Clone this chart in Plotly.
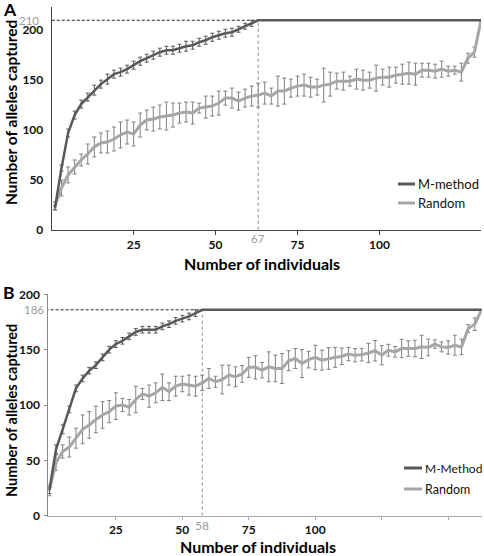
import plotly.graph_objects as go

W, H = 484, 556

# ---------------- Panel A data ----------------
individuals_A = list(range(1, 132, 2))
mmethod_A = [22, 62, 97, 115, 126, 133, 140, 146, 151, 156, 158, 161, 165, 169, 172, 175,
             178, 180, 180, 182, 184, 185, 188, 190, 193, 195, 197, 198, 201, 204, 207, 210,
             210, 210, 210, 210, 210, 210, 210, 210, 210, 210, 210, 210, 210, 210, 210, 210,
             210, 210, 210, 210, 210, 210, 210, 210, 210, 210, 210, 210, 210, 210, 210, 210,
             210, 210]
mmethod_A_err = [2, 3, 4, 4, 4, 4, 5, 4, 5, 4, 4, 4, 4, 4, 4, 4, 4, 4, 4, 4, 5, 4, 4, 4,
                 4, 4, 4, 4, 3, 3, 3, 0, 0, 0, 0, 0, 0, 0, 0, 0, 0, 0, 0, 0, 0, 0, 0, 0,
                 0, 0, 0, 0, 0, 0, 0, 0, 0, 0, 0, 0, 0, 0, 0, 0, 0, 0]
random_A = [24, 42, 55, 63, 70, 76, 83, 87, 88, 91,
            95, 98, 96, 105, 110, 111, 113, 114, 115, 117,
            118, 117, 122, 123, 124, 127, 132, 132, 129, 132,
            134, 135, 137, 134, 139, 139, 142, 144, 145, 143,
            143, 145, 146, 149, 149, 149, 151, 150, 150, 152,
            153, 153, 155, 156, 157, 156, 160, 160, 159, 161,
            159, 160, 158, 172, 178, 210]
random_A_err = [4, 8, 8, 7, 6, 10, 10, 10, 11, 12, 13, 12, 12, 12, 10, 12, 12, 14, 12, 10,
                10, 11, 5, 11, 10, 12, 7,
                10, 9, 9, 10, 12, 11, 8, 15, 13, 9, 10, 11, 10, 8, 17, 12, 8, 9, 5, 10,
                10, 8, 13, 8, 10, 8, 10, 11, 11, 7, 7, 7, 8, 5, 4, 9, 5, 5, 0]
reach_label_A = "67"

# ---------------- Panel B data ----------------
individuals_B = [i * 2.5 for i in range(66)]
mmethod_B = [23, 60, 78, 96, 115, 124, 131, 136, 143, 150, 155, 158, 162, 166, 168, 168,
             168, 171, 173, 176, 178, 180, 183, 186, 186, 186, 186, 186, 186, 186, 186, 186,
             186, 186, 186, 186, 186, 186, 186, 186, 186, 186, 186, 186, 186, 186, 186, 186,
             186, 186, 186, 186, 186, 186, 186, 186, 186, 186, 186, 186, 186, 186, 186, 186,
             186, 186]
mmethod_B_err = [3, 4, 4, 3, 3, 3, 3, 3, 3, 3, 3, 3, 3, 3, 3, 3, 3, 3, 3, 3, 3, 3, 3, 0,
                 0, 0, 0, 0, 0, 0, 0, 0, 0, 0, 0, 0, 0, 0, 0, 0, 0, 0, 0, 0, 0, 0, 0, 0,
                 0, 0, 0, 0, 0, 0, 0, 0, 0, 0, 0, 0, 0, 0, 0, 0, 0, 0]
random_B = [23, 48, 58, 62, 70, 78, 82, 87, 91, 94,
            99, 100, 98, 105, 110, 108, 111, 116, 112, 117,
            119, 118, 117, 120, 124, 121, 123, 127, 125.5, 128,
            134, 134, 131.5, 134.5, 133, 133, 140, 142, 137.5, 141,
            143, 140.5, 142, 143, 144, 146, 145, 145.5, 147, 149,
            145, 149.5, 148, 151, 151, 151, 152.5, 152, 155, 152.5,
            152, 154, 152.5, 169, 173, 186]
random_B_err = [5, 7, 6, 9, 9, 13, 12, 12, 12, 10, 12, 6, 7, 12, 5, 10, 9, 12, 8, 9, 7, 9,
                9, 7, 9, 5, 13, 9,
                9, 7.5, 9, 10.5, 7, 13.5, 12, 13.5, 9, 9, 12.7, 7.5, 11, 9, 9.8, 9, 7.5,
                6, 6, 5.7, 8.7, 9.3, 8.7, 5.3, 4.8, 8.3, 7, 7.5, 10.5, 7.5, 3.8, 4.5, 6,
                9, 7, 3.5, 5.7, 0]
reach_label_B = "58"

# ---------------- styling ----------------
FONT = "Lato, 'Open Sans', sans-serif"
C_M = "#595959"
C_R = "#a6a6a6"
C_RERR = "#808080"
C_LBL = "#9a9a9a"


def px(x):
    return x / W


def py(y):
    return 1 - y / H


fig = go.Figure()


def add_panel(xs, m, m_err, r, r_err, xa, ya, names, xmin):
    top = max(m)
    ri = m.index(top)
    reach_x = xs[ri]
    fig.add_trace(go.Scatter(x=[xmin, reach_x], y=[top, top], mode="lines",
                             line=dict(color="#222222", width=1, dash="3px,2px"),
                             xaxis=xa, yaxis=ya, showlegend=False, hoverinfo="skip",
                             cliponaxis=False))
    fig.add_trace(go.Scatter(x=[reach_x, reach_x], y=[0, top], mode="lines",
                             line=dict(color="#888888", width=1, dash="dot"),
                             xaxis=xa, yaxis=ya, showlegend=False, hoverinfo="skip"))
    fig.add_trace(go.Scatter(x=xs, y=r, mode="lines", name=names[1],
                             line=dict(color=C_R, width=3),
                             error_y=dict(type="data", array=r_err, color=C_RERR,
                                          thickness=1, width=2),
                             xaxis=xa, yaxis=ya, showlegend=False, cliponaxis=False))
    fig.add_trace(go.Scatter(x=xs, y=m, mode="lines", name=names[0],
                             line=dict(color=C_M, width=2.5),
                             error_y=dict(type="data", array=m_err, color=C_M,
                                          thickness=1, width=2),
                             xaxis=xa, yaxis=ya, showlegend=False, cliponaxis=False))
    return reach_x, top


reachA, topA = add_panel(individuals_A, mmethod_A, mmethod_A_err, random_A, random_A_err,
                         "x", "y", ["M-method", "Random"], -1.5)
reachB, topB = add_panel(individuals_B, mmethod_B, mmethod_B_err, random_B, random_B_err,
                         "x2", "y2", ["M-Method", "Random"], -1.4)

tickfont = dict(family=FONT, size=12, color="#111111", weight="bold")

fig.update_layout(
    width=W, height=H, autosize=False,
    margin=dict(l=0, r=0, t=0, b=0, pad=0, autoexpand=False),
    paper_bgcolor="white", plot_bgcolor="white",
    font=dict(family=FONT),
    showlegend=False,
    xaxis=dict(domain=[px(51.7), px(481)], range=[0, 131], automargin=False,
               tickvals=[25, 50, 75, 100], ticktext=["25", "50", "75", "100"],
               ticks="outside", ticklen=4, tickcolor="#444444", tickwidth=1,
               showline=True, linecolor="#444444", linewidth=1,
               showgrid=False, zeroline=False, tickfont=tickfont,
               anchor="y"),
    yaxis=dict(domain=[py(229.8), py(7)], range=[0, 223.3], automargin=False,
               tickvals=[0, 50, 100, 150, 200],
               ticks="", showline=True, linecolor="#444444", linewidth=1,
               showgrid=False, zeroline=False, tickfont=tickfont,
               ticklabelstandoff=5, anchor="x"),
    xaxis2=dict(domain=[px(48.3), px(481.7)], range=[-0.4, 162.6], automargin=False,
                tickvals=[25, 50, 75, 100, 125, 150],
                ticktext=["25", "50", "75", "100", "", ""],
                ticks="outside", ticklen=3, tickcolor="#aaaaaa", tickwidth=1,
                showline=True, linecolor="#aaaaaa", linewidth=1,
                showgrid=False, zeroline=False, tickfont=tickfont,
                anchor="y2"),
    yaxis2=dict(domain=[py(515.7), py(294.3)], range=[0, 200], automargin=False,
                tickvals=[0, 50, 100, 150, 200],
                ticks="outside", ticklen=3, tickcolor="#888888", tickwidth=1,
                showline=True, linecolor="#888888", linewidth=1,
                showgrid=False, zeroline=False, tickfont=tickfont,
                ticklabelstandoff=2, anchor="x2"),
)

ann = []


def add_text(text, x, y, size, color="#000", xref="paper", yref="paper",
             xanchor="center", yanchor="middle", angle=0):
    ann.append(dict(text=text, x=x, y=y, xref=xref, yref=yref, xanchor=xanchor,
                    yanchor=yanchor, textangle=angle, showarrow=False,
                    font=dict(family=FONT, size=size, color=color)))


add_text("<b>A</b>", px(9.5), py(9), 17.5)
add_text("<b>B</b>", px(9), py(292.5), 17.5)
add_text("<b>Number of alleles captured</b>", px(11), py(113), 15.5, angle=-90)
add_text("<b>Number of alleles captured</b>", px(11), py(411), 14.5, angle=-90)
add_text("<b>Number of individuals</b>", px(262), py(264), 16)
add_text("<b>Number of individuals</b>", px(258), py(546), 16)
add_text(str(topA), px(41), topA, 11.5, C_LBL, yref="y", xanchor="right")
add_text(str(topB), px(45.5), topB, 11.5, C_LBL, yref="y2", xanchor="right")
add_text(reach_label_A, reachA, py(238), 11.5, C_LBL, xref="x")
add_text(reach_label_B, reachB, py(525), 12, C_LBL, xref="x2")

shapes = []
legends = [
    (398, 415, 184, "M-method", C_M, 13), (398, 415, 203, "Random", C_R, 13),
    (404, 422, 468, "M-Method", C_M, 12), (404, 422, 489, "Random", C_R, 12.5),
]
for x0, x1, yy, label, col, fs in legends:
    shapes.append(dict(type="line", xref="paper", yref="paper",
                       x0=px(x0), x1=px(x1), y0=py(yy), y1=py(yy),
                       line=dict(color=col, width=3)))
    add_text(label, px(x1 + 0.5), py(yy), fs, "#111", xanchor="left")

fig.update_layout(annotations=ann, shapes=shapes)

fig.write_html(
    "out.html",
    config={"responsive": False, "displayModeBar": False},
    post_script="document.body.style.margin='0';document.body.style.padding='0';",
)
